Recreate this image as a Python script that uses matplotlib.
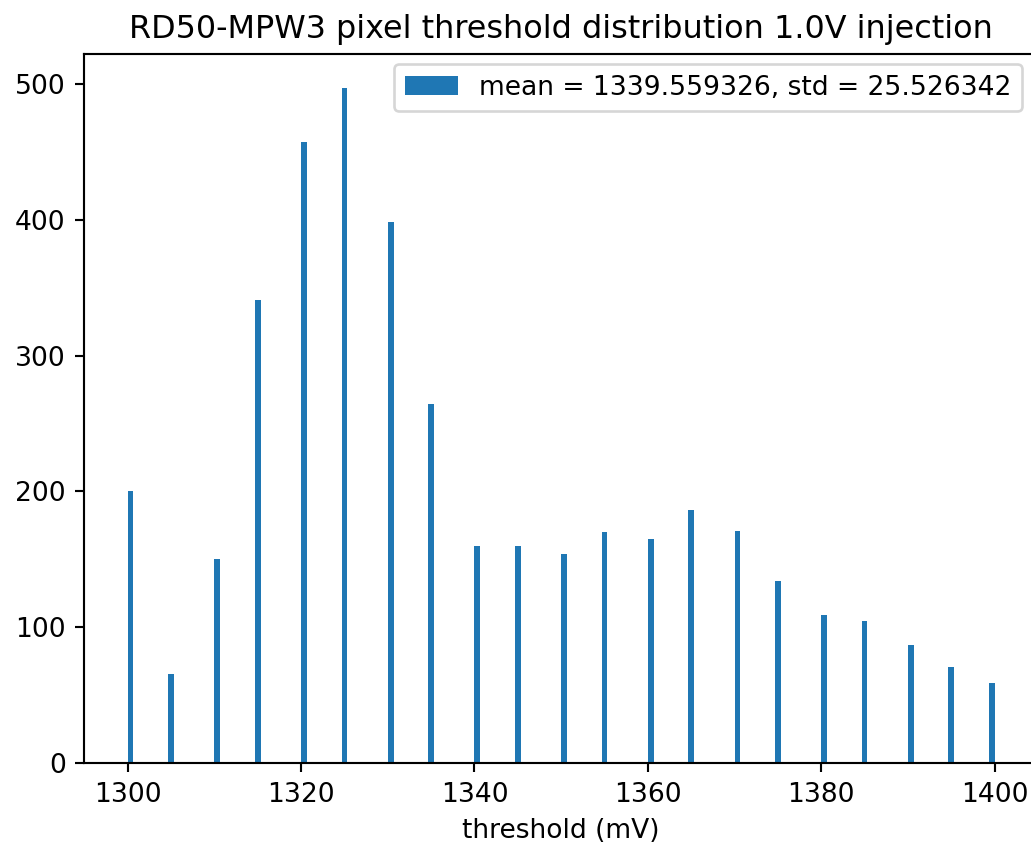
import matplotlib
matplotlib.use("Agg")
import matplotlib.pyplot as plt
import numpy as np

# threshold values (mV) and pixel counts
thresholds = [1300, 1305, 1310, 1315, 1320, 1325, 1330, 1335, 1340, 1345, 1350,
              1355, 1360, 1365, 1370, 1375, 1380, 1385, 1390, 1395, 1400]
counts = [200, 66, 150, 341, 457, 497, 398, 264, 160, 160, 154,
          170, 165, 186, 171, 134, 109, 105, 87, 71, 59]
legend_label = "mean = 1339.559326, std = 25.526342"
title = "RD50-MPW3 pixel threshold distribution 1.0V injection"
xlabel = "threshold (mV)"

DPI = 191
W, H = 1031, 847
fig = plt.figure(figsize=(W / DPI, H / DPI), dpi=DPI)
ax = fig.add_axes([84.3 / W, 83.7 / H, 953.7 / W, 709.3 / H])

ax.hist(thresholds, bins=150, range=(1300, 1400), weights=counts,
        color="#1f77b4", label=legend_label)
ax.set_title(title)
ax.set_xlabel(xlabel)
ax.set_xticks([1300, 1320, 1340, 1360, 1380, 1400])
ax.set_yticks([0, 100, 200, 300, 400, 500])
ax.legend(loc="upper right", bbox_to_anchor=(1022 / W, 1 - 64 / H),
          bbox_transform=fig.transFigure, borderaxespad=0)

fig.savefig("out.png", dpi=DPI)
